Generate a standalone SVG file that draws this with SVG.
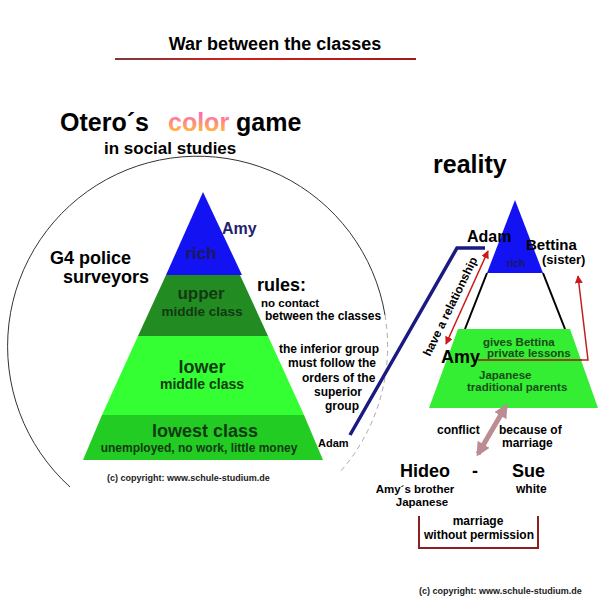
<svg xmlns="http://www.w3.org/2000/svg" width="600" height="600" viewBox="0 0 600 600">
<defs>
<linearGradient id="colorGrad" x1="0" y1="0" x2="0" y2="1">
<stop offset="0" stop-color="#ff55dd"/>
<stop offset="0.5" stop-color="#ff8a80"/>
<stop offset="1" stop-color="#ffcc22"/>
</linearGradient>
<linearGradient id="lineGrad" x1="0" y1="0" x2="1" y2="0">
<stop offset="0" stop-color="#7a3a3a"/>
<stop offset="0.4" stop-color="#d42020"/>
<stop offset="1" stop-color="#a01a1a"/>
</linearGradient>
<marker id="redHead" viewBox="0 0 10 10" refX="9" refY="5" markerWidth="8" markerHeight="8" markerUnits="userSpaceOnUse" orient="auto-start-reverse">
<path d="M0,0 L10,5 L0,10 z" fill="#d01818"/>
</marker>
<marker id="pinkHead" viewBox="0 0 10 10" refX="8" refY="5" markerWidth="14" markerHeight="14" markerUnits="userSpaceOnUse" orient="auto-start-reverse">
<path d="M0,0 L10,5 L0,10 z" fill="#bb8c94"/>
</marker>
</defs>
<style>
text{font-family:"Liberation Sans",Arial,sans-serif;font-weight:bold;fill:#000}
.band{fill:#123a12}
.small{font-size:12px}
.tight{font-size:11.5px}
.copy{font-size:9px;fill:#222}
.conn{fill:none}
</style>
<rect width="600" height="600" fill="#fff"/>

<g id="title">
<text x="275" y="50" font-size="18" text-anchor="middle">War between the classes</text>
<rect x="115" y="58" width="301" height="2" fill="url(#lineGrad)"/>
</g>

<g id="heading-left">
<text x="60" y="131" font-size="25">Otero´s</text>
<text x="168" y="131" font-size="25" fill="url(#colorGrad)" style="fill:url(#colorGrad)">color</text>
<text x="236" y="131" font-size="25">game</text>
<text x="104" y="154" font-size="17">in social studies</text>
</g>

<g id="circle">
<path d="M70,487 A190,190 0 1,1 385,315" fill="none" stroke="#333" stroke-width="1"/>
<path d="M385,315 A190,190 0 0,1 340,472" fill="none" stroke="#aaa" stroke-width="1" stroke-dasharray="5,4"/>
</g>

<g id="police">
<text x="50" y="264" font-size="18">G4 police</text>
<text x="63" y="283" font-size="18">surveyors</text>
</g>

<g id="pyramid-left">
<polygon id="band-rich" points="203,192 242,275 166,275" fill="#1212f2"/>
<polygon id="band-upper" points="166,275 240,275 268,336 138,336" fill="#228b22"/>
<polygon id="band-lower" points="138,336 268,336 304,415 102,415" fill="#33ff33"/>
<polygon id="band-lowest" points="102,415 304,415 323,460 83,460" fill="#22cc22"/>
<text x="201" y="259" font-size="17" text-anchor="middle" fill="#1a1a5a" style="fill:#1a1a5a">rich</text>
<text x="201" y="299" font-size="17" text-anchor="middle" class="band">upper</text>
<text x="202" y="316" font-size="13.5" text-anchor="middle" class="band">middle class</text>
<text x="202" y="373" font-size="18" text-anchor="middle" class="band">lower</text>
<text x="202" y="389" font-size="14" text-anchor="middle" class="band">middle class</text>
<text x="205" y="437" font-size="18" text-anchor="middle" class="band">lowest class</text>
<text x="199" y="452" font-size="12" text-anchor="middle" class="band">unemployed, no work, little money</text>
</g>

<g id="amy-left">
<text x="222" y="234" font-size="16" fill="#22226e" style="fill:#22226e">Amy</text>
</g>

<g id="rules">
<text x="257" y="291" font-size="18">rules:</text>
<text x="261" y="307" class="tight">no contact</text>
<text x="265" y="320" class="small">between the classes</text>
<text x="279" y="353" class="small">the inferior group</text>
<text x="288" y="367" class="small">must follow the</text>
<text x="302" y="382" class="small">orders of the</text>
<text x="314" y="396" class="small">superior</text>
<text x="325" y="410" class="small">group</text>
</g>

<g id="adam-left">
<text x="318" y="447" font-size="11">Adam</text>
</g>

<g id="copyright-left">
<text x="107" y="481" class="copy">(c) copyright:  www.schule-studium.de</text>
</g>

<g id="heading-right">
<text x="433" y="173" font-size="25">reality</text>
</g>

<g id="pyramid-right">
<polygon points="515,200 543,273 487,273" fill="#1212f2"/>
<line x1="487" y1="273" x2="465" y2="329" stroke="#000" stroke-width="2"/>
<line x1="543" y1="273" x2="565" y2="329" stroke="#000" stroke-width="2"/>
<polygon points="458,329 570,329 598,408 429,408" fill="#33ee33"/>
<text x="516" y="267" font-size="10" text-anchor="middle" fill="#1a1a5a" style="fill:#1a1a5a">rich</text>
<text x="483" y="346" class="tight" fill="#1a4a1a" style="fill:#1a4a1a">gives Bettina</text>
<text x="487" y="357" class="tight" fill="#1a4a1a" style="fill:#1a4a1a">private lessons</text>
<text x="479" y="379" class="tight" fill="#1a4a1a" style="fill:#1a4a1a">Japanese</text>
<text x="467" y="391" class="tight" fill="#1a4a1a" style="fill:#1a4a1a">traditional parents</text>
</g>

<g id="adam-right">
<text x="467" y="242" font-size="16">Adam</text>
</g>
<g id="bettina">
<text x="526" y="250" font-size="15">Bettina</text>
<text x="542" y="264" font-size="13">(sister)</text>
</g>
<g id="amy-right">
<text x="441" y="363" font-size="18">Amy</text>
</g>

<g id="connectors">
<polyline class="conn" points="350,435 457,248 485,248" stroke="#1a1a80" stroke-width="3.5"/>
<line x1="446" y1="344" x2="488" y2="251" stroke="#d01818" stroke-width="1.5" marker-start="url(#redHead)" marker-end="url(#redHead)"/>
<line x1="478" y1="360" x2="582" y2="360" stroke="#8a4a1a" stroke-width="2"/>
<polyline class="conn" points="582,360 588,360 578,276" stroke="#c02020" stroke-width="1.5" marker-end="url(#redHead)"/>
<line x1="506" y1="406" x2="478" y2="454" stroke="#bb8c94" stroke-width="5" marker-start="url(#pinkHead)" marker-end="url(#pinkHead)"/>
<polyline class="conn" points="419,516 419,548 538,548 538,516" stroke="#8b2020" stroke-width="2"/>
</g>

<g id="relationship-label">
<text transform="translate(430,357) rotate(-64)" font-size="12">have a relationship</text>
</g>

<g id="conflict">
<text x="437" y="434" class="small">conflict</text>
<text x="499" y="434" class="small">because of</text>
<text x="502" y="447" class="small">marriage</text>
</g>

<g id="hideo">
<text x="400" y="477" font-size="18">Hideo</text>
<text x="415" y="493" class="tight" text-anchor="middle">Amy´s brother</text>
<text x="422" y="506" class="tight" text-anchor="middle">Japanese</text>
</g>
<g id="dash">
<text x="472" y="477" font-size="18">-</text>
</g>
<g id="sue">
<text x="512" y="477" font-size="18">Sue</text>
<text x="516" y="493" class="small">white</text>
</g>

<g id="marriage">
<text x="478" y="525" class="small" text-anchor="middle">marriage</text>
<text x="479" y="539" class="small" text-anchor="middle">without permission</text>
</g>

<g id="copyright-right">
<text x="419" y="594" class="copy">(c) copyright:  www.schule-studium.de</text>
</g>
</svg>
